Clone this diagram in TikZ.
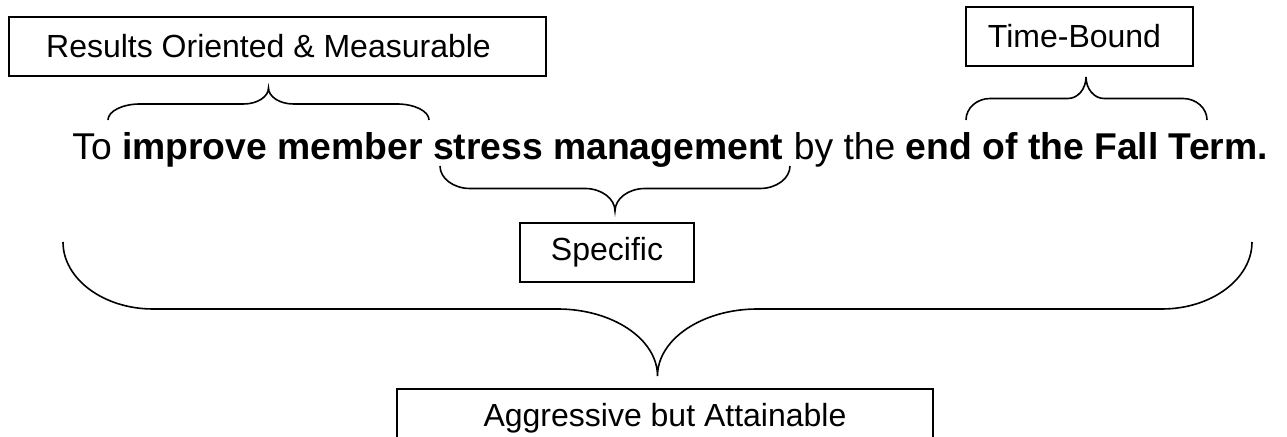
\documentclass[tikz,border=0pt]{standalone}
\usepackage{fontspec}
\setmainfont{Liberation Sans}
\usetikzlibrary{calc}

% curly brace from end #1 to end #2 with its point at #3,
% #4 and #5 are the widths of the end and point curves
\newcommand{\curlybrace}[5]{%
    \coordinate (#3mid) at ($(#1)!0.5!(#3)$);
    \draw[brace line] (#1)
        .. controls ($(#1)!0.55!(#1 |- #3mid)$) and ($(#1 |- #3mid)+(0.45*#4,0)$) .. ($(#1 |- #3mid)+(#4,0)$)
        -- ($(#3 |- #3mid)-(#5,0)$)
        .. controls ($(#3 |- #3mid)-(0.45*#5,0)$) and ($(#3)!0.55!(#3 |- #3mid)$) .. (#3)
        .. controls ($(#3)!0.55!(#3 |- #3mid)$) and ($(#3 |- #3mid)+(0.45*#5,0)$) .. ($(#3 |- #3mid)+(#5,0)$)
        -- ($(#2 |- #3mid)-(#4,0)$)
        .. controls ($(#2 |- #3mid)-(0.45*#4,0)$) and ($(#2)!0.55!(#2 |- #3mid)$) .. (#2);
}

\begin{document}
\begin{tikzpicture}[
        %We work on the pixel grid of the sheet
        x=0.5pt, y=-0.5pt,
        box/.style={draw, line width=0.8pt, inner sep=0pt,
            font=\fontsize{16}{19}\selectfont},
        brace line/.style={line width=0.8pt},
        goal text/.style={inner sep=0pt, font=\fontsize{18.65}{22}\selectfont},
    ]
    \useasboundingbox (0,0) rectangle (1287,437);

    % The goal sentence
    \node[goal text, anchor=base west] (goal) at (72,160)
        {To \textbf{improve member stress management} by the \textbf{end of the Fall Term.}};

    % The labels (the text sits a little left in the two top boxes)
    \node[box, minimum width=268.5pt, minimum height=29.5pt] (results) at (277.5,46.5)
        {Results Oriented \& Measurable\hspace*{9pt}};
    \node[box, minimum width=113.5pt, minimum height=29.5pt] (time) at (1079.5,36.5)
        {Time-Bound\hspace*{5pt}};
    \node[box, minimum width=87pt, minimum height=29.5pt] (specific) at (607,252.5) {Specific};
    \node[box, minimum width=268pt, minimum height=29pt] (aggressive) at (665,418)
        {Aggressive but Attainable};

    % Important coordinates are defined
    \coordinate (resL) at (108,120);
    \coordinate (resR) at (429,120);
    \coordinate (resTip) at (268.5,88);
    \coordinate (specL) at (440,166);
    \coordinate (specR) at (790,166);
    \coordinate (specTip) at (615,211);
    \coordinate (timeL) at (966,120);
    \coordinate (timeR) at (1207,120);
    \coordinate (timeTip) at (1086,77);
    \coordinate (allL) at (63,242);
    \coordinate (allR) at (1252,242);
    \coordinate (allTip) at (657.5,376);

    % the braces
    \curlybrace{resL}{resR}{resTip}{32}{25}
    \curlybrace{specL}{specR}{specTip}{30}{30}
    \curlybrace{timeL}{timeR}{timeTip}{24}{18}
    \curlybrace{allL}{allR}{allTip}{90}{100}
\end{tikzpicture}
\end{document}
